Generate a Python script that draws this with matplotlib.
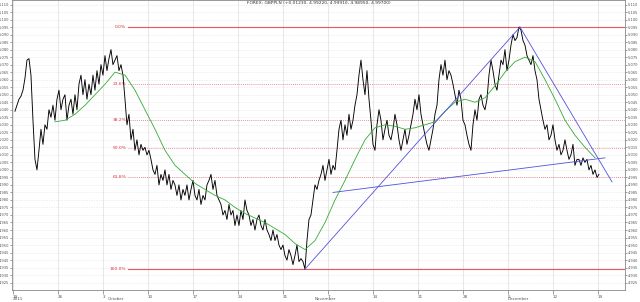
import numpy as np
import matplotlib
matplotlib.use("Agg")
from matplotlib import pyplot as plt
from matplotlib import transforms

# GBPPLN closes, one bar every 2/9 of a trading day, starting Sept 19 2011
close = [5.039, 5.043, 5.047, 5.049, 5.053, 5.061, 5.073, 5.074, 5.063, 5.033,
         5.007, 5.000, 5.013, 5.027, 5.017, 5.030, 5.027, 5.040, 5.035, 5.043,
         5.033, 5.047, 5.053, 5.040, 5.047, 5.050, 5.033, 5.043, 5.047, 5.037,
         5.050, 5.040, 5.057, 5.063, 5.050, 5.060, 5.047, 5.057, 5.050, 5.063,
         5.053, 5.066, 5.057, 5.070, 5.063, 5.076, 5.066, 5.074, 5.080, 5.070,
         5.073, 5.076, 5.066, 5.070, 5.063, 5.047, 5.030, 5.037, 5.020, 5.027,
         5.013, 5.020, 5.010, 5.017, 5.013, 5.015, 5.010, 5.013, 5.007, 5.000,
         4.997, 5.003, 4.990, 4.997, 4.993, 5.000, 4.990, 4.997, 4.987, 4.993,
         4.990, 4.983, 4.990, 4.980, 4.987, 4.983, 4.990, 4.980, 4.987, 4.993,
         4.983, 4.980, 4.987, 4.977, 4.983, 4.980, 4.990, 4.993, 4.997, 4.987,
         4.993, 4.983, 4.980, 4.977, 4.970, 4.973, 4.967, 4.977, 4.970, 4.973,
         4.963, 4.970, 4.963, 4.973, 4.967, 4.980, 4.973, 4.970, 4.963, 4.967,
         4.960, 4.967, 4.970, 4.963, 4.960, 4.967, 4.960, 4.957, 4.953, 4.960,
         4.953, 4.957, 4.950, 4.947, 4.950, 4.943, 4.940, 4.947, 4.943, 4.937,
         4.943, 4.950, 4.939, 4.941, 4.939, 4.934, 4.953, 4.967, 4.970, 4.980,
         4.990, 4.987, 4.993, 4.997, 5.003, 4.993, 5.000, 5.007, 4.997, 5.003,
         5.000, 5.013, 5.027, 5.033, 5.020, 5.030, 5.023, 5.037, 5.027, 5.033,
         5.043, 5.050, 5.063, 5.073, 5.060, 5.050, 5.066, 5.047, 5.033, 5.017,
         5.013, 5.030, 5.040, 5.033, 5.020, 5.027, 5.033, 5.023, 5.020, 5.027,
         5.037, 5.030, 5.020, 5.013, 5.020, 5.027, 5.017, 5.023, 5.030, 5.037,
         5.047, 5.040, 5.050, 5.037, 5.030, 5.023, 5.017, 5.013, 5.020, 5.027,
         5.037, 5.043, 5.060, 5.070, 5.063, 5.073, 5.060, 5.066, 5.063, 5.057,
         5.050, 5.043, 5.053, 5.047, 5.033, 5.030, 5.023, 5.017, 5.013, 5.030,
         5.040, 5.033, 5.047, 5.050, 5.043, 5.040, 5.047, 5.063, 5.073, 5.066,
         5.057, 5.053, 5.063, 5.073, 5.070, 5.080, 5.066, 5.073, 5.083, 5.090,
         5.086, 5.088, 5.095, 5.093, 5.086, 5.083, 5.076, 5.073, 5.070, 5.076,
         5.066, 5.060, 5.047, 5.040, 5.033, 5.027, 5.030, 5.020, 5.023, 5.030,
         5.020, 5.013, 5.017, 5.010, 5.013, 5.020, 5.013, 5.007, 5.010, 5.017,
         5.003, 5.007, 5.007, 5.003, 5.008, 5.005, 5.007, 5.000, 5.003, 4.997,
         5.000, 4.995, 4.997]
bar_step = 2 / 9.0
bar_start = 0.22

# moving average
ma = [5.032, 5.033, 5.037, 5.043, 5.050, 5.057, 5.065, 5.063, 5.053, 5.040,
      5.027, 5.013, 5.003, 4.997, 4.991, 4.987, 4.983, 4.980, 4.975, 4.971,
      4.968, 4.965, 4.961, 4.957, 4.951, 4.947, 4.953, 4.965, 4.980, 4.993,
      5.007, 5.020, 5.028, 5.030, 5.029, 5.027, 5.028, 5.030, 5.032, 5.039,
      5.045, 5.047, 5.045, 5.048, 5.056, 5.065, 5.072, 5.075, 5.072, 5.060,
      5.047, 5.033, 5.023, 5.015, 5.008]
ma_start = 4.67
ma_step = 10 / 9.0

# trend lines: (x0, y0, x1, y1) in trading days / price
trends = [(32.44, 4.934, 56.33, 5.095),
          (35.56, 4.985, 65.78, 5.008),
          (56.33, 5.095, 66.56, 4.992)]

fib_high = 5.095
fib_low = 4.934
fib_ratios = [0.0, 0.236, 0.382, 0.5, 0.618, 1.0]
fib_start = 12.78

tick_days = np.arange(0, 70, 5)
tick_labels = ["19", "26", "3", "10", "17", "24", "31", "7", "14", "21", "28", "5", "12", "19"]
months = [("2011", 0.0), ("October", 10.5), ("November", 33.5), ("December", 55.0)]

title = "FOREX: GBPPLN (+0.01230, 4.99220, 4.99910, 4.98950, 4.99700)"

fig = plt.figure(figsize=(6.4, 3.02), dpi=100)
ax = fig.add_axes([12 / 640, 12 / 302, 613 / 640, 290 / 302])
ax.set_xlim(-0.11, 68.0)
ax.set_ylim(4.9201, 5.113)

yt = np.arange(4.925, 5.1125, 0.005)
ax.set_yticks(yt)
ax.set_yticklabels(["%.3f" % v for v in yt])
ax.set_xticks(tick_days)
ax.set_xticklabels(tick_labels)
for lbl in ax.get_xticklabels():
    lbl.set_horizontalalignment("left")
ax.tick_params(axis="both", labelsize=3.0, colors="#555555", length=1.5, width=0.4, pad=0.5)
ax.tick_params(axis="y", left=True, right=True, labelleft=True, labelright=True, labelsize=2.6)
ax.tick_params(axis="x", direction="out", length=3, pad=0.5)

for v in yt:
    ax.axhline(v, color="#cfcfcf", lw=0.4, ls=(0, (1, 2)), zorder=0)
for d in tick_days:
    ax.axvline(d, color="#dddddd", lw=0.5, zorder=0)
for s in ax.spines.values():
    s.set_color("#888888")
    s.set_linewidth(0.6)

# fibonacci retracement
for r in fib_ratios:
    lvl = fib_high - r * (fib_high - fib_low)
    if r in (0.0, 1.0):
        ax.plot([fib_start, 68.0], [lvl, lvl], color="#e85a5a", lw=0.8, zorder=1)
    else:
        ax.plot([fib_start, 68.0], [lvl, lvl], color="#e07070", lw=0.6, ls=(0, (1, 1.5)), zorder=1)
    ax.text(fib_start - 0.2, lvl, "%.1f%%" % (r * 100), color="#e03030", fontsize=3.2,
            ha="right", va="center")

xs = bar_start + np.arange(len(close)) * bar_step
ax.plot(xs, close, color="black", lw=0.65, zorder=3)
xm = ma_start + np.arange(len(ma)) * ma_step
ax.plot(xm, ma, color="#33aa33", lw=0.6, zorder=4)
for x0, y0, x1, y1 in trends:
    ax.plot([x0, x1], [y0, y1], color="#5050e0", lw=0.6, zorder=5)

ax.text(0.5, 0.995, title, transform=ax.transAxes, fontsize=3.2, ha="center", va="top", color="#333333")

trans = transforms.blended_transform_factory(ax.transData, fig.transFigure)
for name, d in months:
    ax.text(d, 0.002, name, transform=trans, fontsize=3.0, ha="left", va="bottom", color="#555555")

fig.savefig("out.png", dpi=100)
